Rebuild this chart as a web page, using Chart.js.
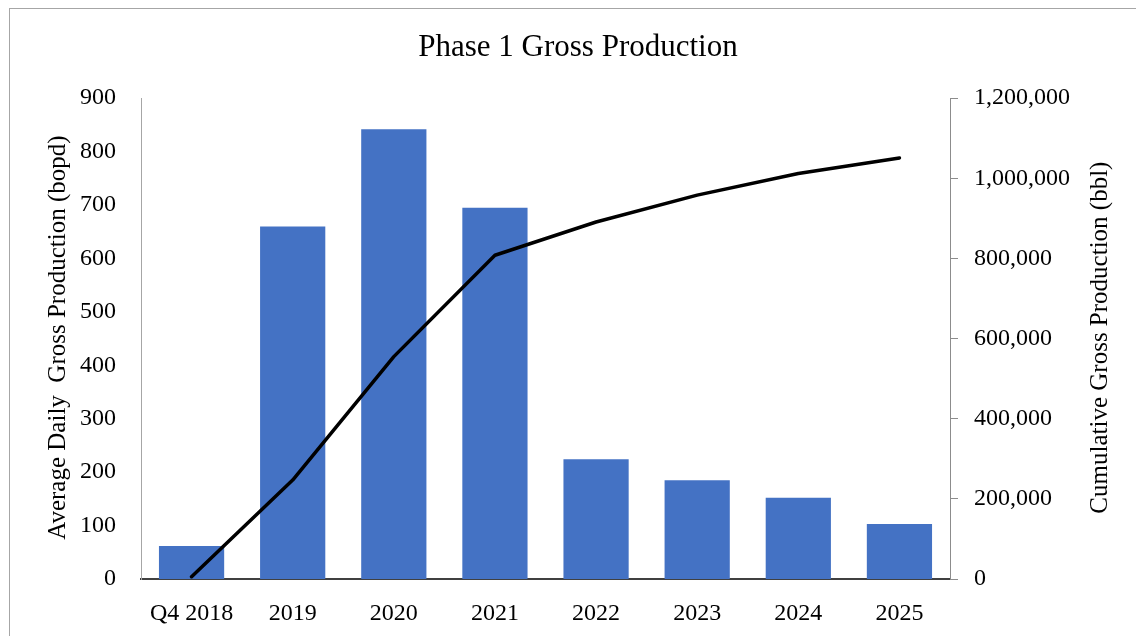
<!DOCTYPE html>
<html lang="en">
<head>
  <meta charset="UTF-8" />
  <title>Phase 1 Gross Production</title>
  <style>
    * { box-sizing: content-box; }
    body, html {
      margin: 0; padding: 0;
      background: #fff;
      overflow: hidden;
    }
    #frame {
      position: absolute;
      left: 9px; top: 8px;
      width: 1136px; height: 628px;
      border: 1px solid #a6a6a6;
    }
    canvas { display: block; }
  </style>
</head>
<body>
  <div id="frame">
    <canvas id="prodChart" width="1136" height="628" style="width:1136px;height:628px"></canvas>
  </div>

  <script src="https://cdn.jsdelivr.net/npm/chart.js"></script>
  <script>
    // data
    const years = ['Q4 2018', '2019', '2020', '2021', '2022', '2023', '2024', '2025'];
    const avgDaily = [62, 660, 842, 695, 224, 185, 152, 103];            // bopd
    const cumulative = [5700, 247000, 555000, 808000, 891000, 958000, 1012000, 1051000]; // bbl

    const leftTicks = [0, 100, 200, 300, 400, 500, 600, 700, 800, 900];
    const rightTicks = [0, 200000, 400000, 600000, 800000, 1000000, 1200000];

    const leftTitle = 'Average Daily  Gross Production (bopd)';
    const rightTitle = 'Cumulative Gross Production (bbl)';

    const FONT = "'Liberation Serif', 'Times New Roman', serif";
    const TICK_SIZE = 24;
    const AXIS_TITLE_SIZE = 25;

    // axis titles both read bottom-to-top, like the original
    const axisTitles = {
      id: 'axisTitles',
      afterDraw(chart) {
        const c = chart.ctx;
        const area = chart.chartArea;
        const midY = (area.top + area.bottom) / 2 - 1;
        [[48, leftTitle], [1090, rightTitle]].forEach(([x, txt]) => {
          c.save();
          c.fillStyle = '#000';
          c.font = AXIS_TITLE_SIZE + 'px ' + FONT;
          c.textAlign = 'center';
          c.textBaseline = 'middle';
          c.translate(x, midY);
          c.rotate(-Math.PI / 2);
          c.fillText(txt, 0, 0);
          c.restore();
        });
      }
    };

    const ctx = document.getElementById('prodChart').getContext('2d');
    new Chart(ctx, {
      data: {
        labels: years,
        datasets: [
          {
            type: 'line',
            label: 'Cumulative',
            data: cumulative,
            yAxisID: 'y1',
            borderColor: '#000',
            borderWidth: 3.5,
            borderCapStyle: 'round',
            borderJoinStyle: 'round',
            pointRadius: 0,
            tension: 0,
            fill: false,
            order: 0
          },
          {
            type: 'bar',
            label: 'Average Daily',
            data: avgDaily,
            yAxisID: 'y',
            backgroundColor: '#4472C4',
            barPercentage: 1,
            categoryPercentage: 0.645,
            order: 1
          }
        ]
      },
      options: {
        responsive: false,
        animation: false,
        devicePixelRatio: 1,
        layout: { padding: 0 },
        plugins: {
          legend: { display: false },
          tooltip: { enabled: false },
          title: {
            display: true,
            text: 'Phase 1 Gross Production',
            color: '#000',
            font: { family: FONT, size: 31, weight: 'normal' },
            padding: { top: 20, bottom: 32 }
          }
        },
        scales: {
          x: {
            grid: { display: false },
            border: { display: true, color: '#404040', width: 2 },
            ticks: {
              color: '#000',
              font: { family: FONT, size: TICK_SIZE },
              padding: 12,
              maxRotation: 0,
              autoSkip: false
            },
            afterFit(scale) { scale.height = 58; }
          },
          y: {
            position: 'left',
            min: 0,
            max: 900,
            grid: { display: false },
            border: { display: true, color: '#a6a6a6', width: 1 },
            afterBuildTicks(scale) { scale.ticks = leftTicks.map(v => ({ value: v })); },
            ticks: {
              color: '#000',
              font: { family: FONT, size: TICK_SIZE },
              padding: 17
            },
            afterFit(scale) { scale.width = 131; }
          },
          y1: {
            position: 'right',
            min: 0,
            max: 1200000,
            grid: {
              display: true,
              drawOnChartArea: false,
              drawTicks: true,
              tickLength: 8,
              color: '#8c8c8c'
            },
            border: { display: true, color: '#8c8c8c', width: 1 },
            afterBuildTicks(scale) { scale.ticks = rightTicks.map(v => ({ value: v })); },
            ticks: {
              color: '#000',
              font: { family: FONT, size: TICK_SIZE },
              padding: 16,
              callback: v => v.toLocaleString('en-US')
            },
            afterFit(scale) { scale.width = 196; }
          }
        }
      },
      plugins: [axisTitles]
    });
  </script>
</body>
</html>
